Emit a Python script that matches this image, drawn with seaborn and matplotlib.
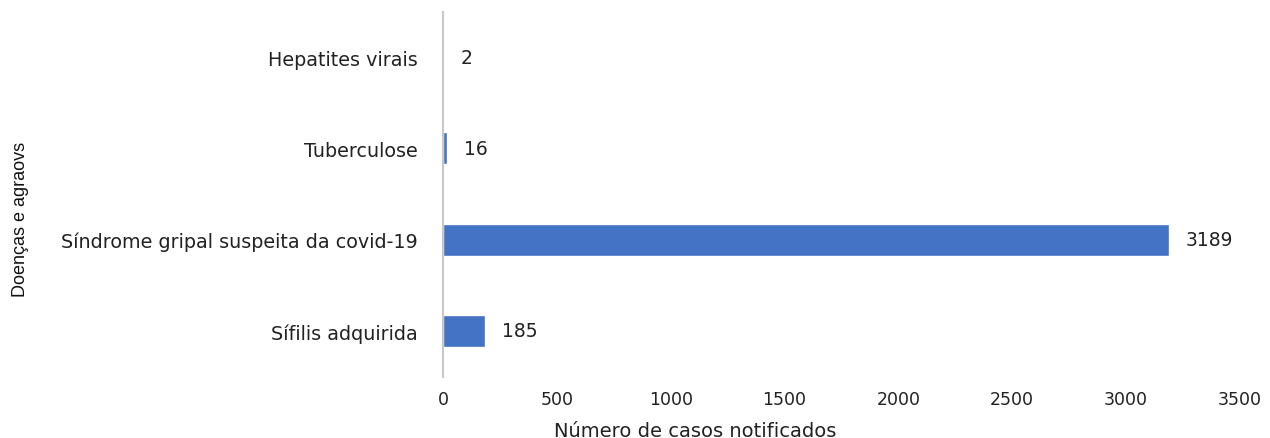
import pandas as pd
import matplotlib
matplotlib.use("Agg")
import matplotlib.pyplot as plt
import seaborn as sns

# dados
doencas = ['Hepatites virais', 'Tuberculose', 'Síndrome gripal suspeita da covid-19', 'Sífilis adquirida']
casos = [2, 16, 3189, 185]

df = pd.DataFrame({'doenca': doencas, 'casos': casos})

sns.set_style('white')
plt.rcParams['font.family'] = ['DejaVu Sans']

fig = plt.figure(figsize=(12.7, 4.39), dpi=100)
ax = fig.add_axes([0.349, 0.14, 0.627, 0.8315])

sns.barplot(data=df, x='casos', y='doenca', color='#4472C4', width=0.35,
            saturation=1, ax=ax)

for i, v in enumerate(casos):
    ax.text(v + 75, i, str(v), va='center', ha='left', fontsize=13.5, color='#222222')

ax.set_xlim(0, 3500)
ax.set_xticks(range(0, 3501, 500))
ax.tick_params(axis='x', labelsize=12.5, length=0, pad=10, colors='#222222')
ax.tick_params(axis='y', labelsize=13.8, length=0, pad=18, colors='#222222')
for s in ['top', 'right', 'bottom']:
    ax.spines[s].set_visible(False)
ax.spines['left'].set_color('#C8C8C8')
ax.spines['left'].set_linewidth(1.5)

ax.set_xlabel('')
ax.set_ylabel('')
fig.text(0.547, 0.016, 'Número de casos notificados', va='center', ha='center',
         fontsize=14, color='#222222')
fig.text(0.016, 0.5, 'Doenças e agraovs', rotation=90, va='center', ha='center',
         fontsize=13, color='#111111', family=['Liberation Sans', 'DejaVu Sans'])

fig.savefig('out.png', dpi=100)
